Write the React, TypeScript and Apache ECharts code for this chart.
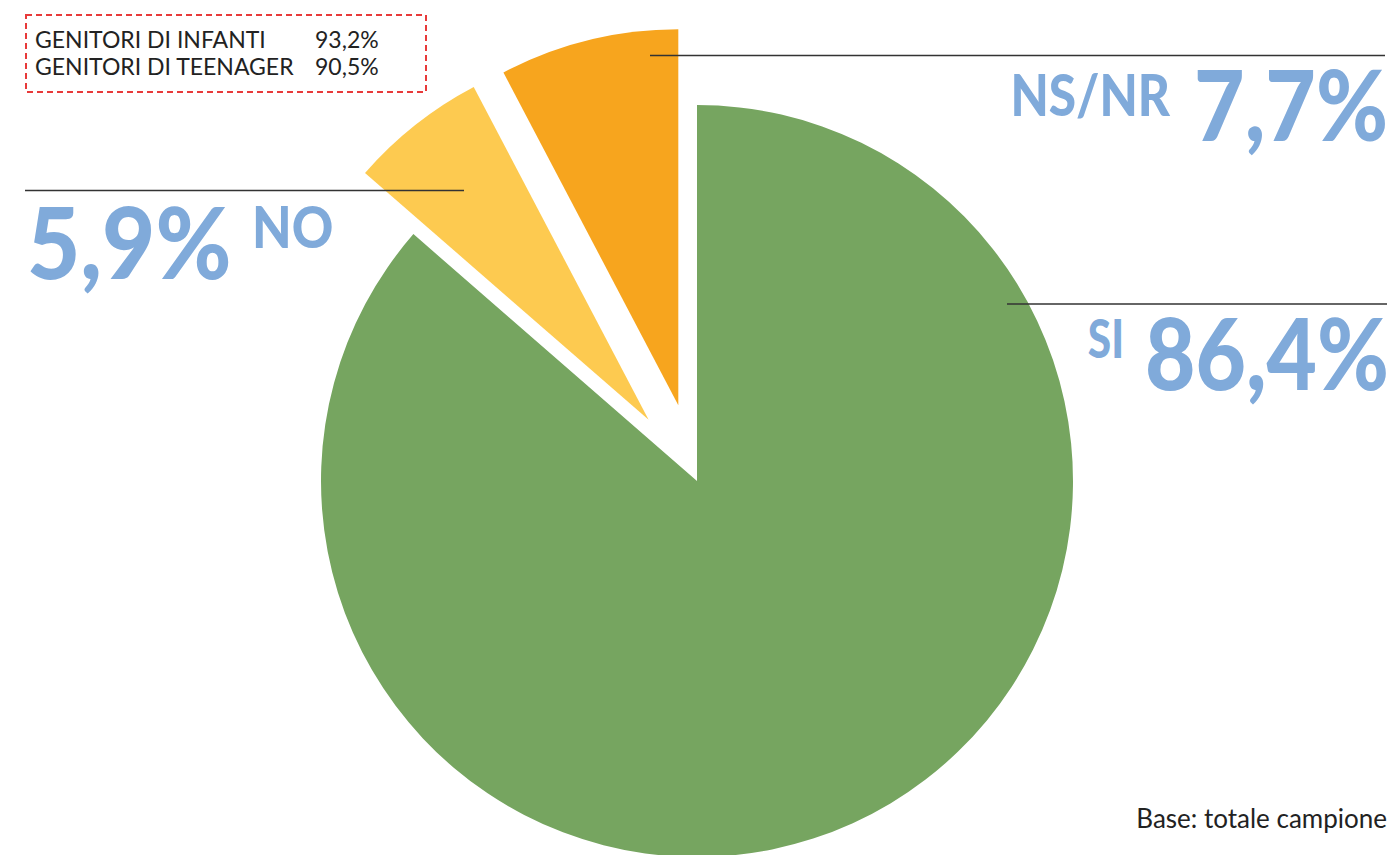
import React, { useEffect, useRef } from "react";
import * as echarts from "echarts";

const categories = ["SI", "NO", "NS/NR"];
const values = [86.4, 5.9, 7.7];
const valueLabels = ["86,4%", "5,9%", "7,7%"];
const sliceColors = ["#76A560", "#FDCA50", "#F7A51E"];
const exploded = [false, true, true];
const boxRows = ["GENITORI DI INFANTI", "GENITORI DI TEENAGER"];
const boxValues = ["93,2%", "90,5%"];
const baseNote = "Base: totale campione";

const BLUE = "#80AADA";
const FONT = "Lato, 'Noto Sans', sans-serif";

export default function App() {
  const ref = useRef<HTMLDivElement>(null);
  useEffect(() => {
    if (!ref.current) return;
    const chart = echarts.init(ref.current, null, { renderer: "svg" });
    const big = (text: string, x: number, y: number, size: number, align: string, sx: number) => ({
      type: "text",
      x,
      y,
      scaleX: sx,
      z: 100,
      style: {
        text,
        fill: BLUE,
        font: `900 ${size}px ${FONT}`,
        align,
        verticalAlign: "middle",
      },
      silent: true,
    });
    const line = (x1: number, x2: number, y: number) => ({
      type: "line",
      z: 100,
      shape: { x1, y1: y, x2, y2: y },
      style: { stroke: "#333333", lineWidth: 1.5 },
      silent: true,
    });
    chart.setOption({
      animation: false,
      backgroundColor: "#ffffff",
      series: [
        {
          type: "pie",
          center: [697, 481],
          radius: 376,
          startAngle: 90,
          clockwise: true,
          selectedMode: "multiple",
          selectedOffset: 78,
          label: { show: false },
          labelLine: { show: false },
          emphasis: { disabled: true },
          itemStyle: { borderWidth: 0 },
          data: categories.map((name, i) => ({
            name,
            value: values[i],
            selected: exploded[i],
            itemStyle: { color: sliceColors[i] },
            select: { itemStyle: { color: sliceColors[i] } },
          })),
        },
      ],
      graphic: [
        {
          type: "rect",
          z: 100,
          shape: { x: 26, y: 15, width: 400, height: 77 },
          style: { fill: "none", stroke: "#E83A3A", lineWidth: 2, lineDash: [6, 4] },
          silent: true,
        },
        ...boxRows.map((t, i) => ({
          type: "text",
          z: 100,
          x: 35,
          y: 39 + i * 27,
          style: { text: t, fill: "#222222", font: `23px ${FONT}`, verticalAlign: "middle" },
          silent: true,
        })),
        ...boxValues.map((t, i) => ({
          type: "text",
          z: 100,
          x: 315,
          y: 39 + i * 27,
          style: { text: t, fill: "#222222", font: `23px ${FONT}`, verticalAlign: "middle" },
          silent: true,
        })),
        line(650, 1385, 55.5),
        line(25, 464, 190.5),
        line(1007, 1387, 304),
        big(categories[2], 1170, 94, 57, "right", 0.87),
        big(valueLabels[2], 1388, 103, 98, "right", 0.89),
        big(categories[0], 1124, 338, 53, "right", 0.8),
        big(valueLabels[0], 1389, 351, 100, "right", 0.87),
        big(valueLabels[1], 27, 240, 100, "left", 0.92),
        big(categories[1], 252, 226, 57, "left", 0.9),
        {
          type: "text",
          z: 100,
          x: 1387,
          y: 818,
          style: { text: baseNote, fill: "#222222", font: `26px ${FONT}`, align: "right", verticalAlign: "middle" },
          silent: true,
        },
      ],
    });
    return () => chart.dispose();
  }, []);
  return (
    <div
      ref={ref}
      style={{ position: "fixed", left: 0, top: 0, width: 1396, height: 855, background: "#fff" }}
    />
  );
}
